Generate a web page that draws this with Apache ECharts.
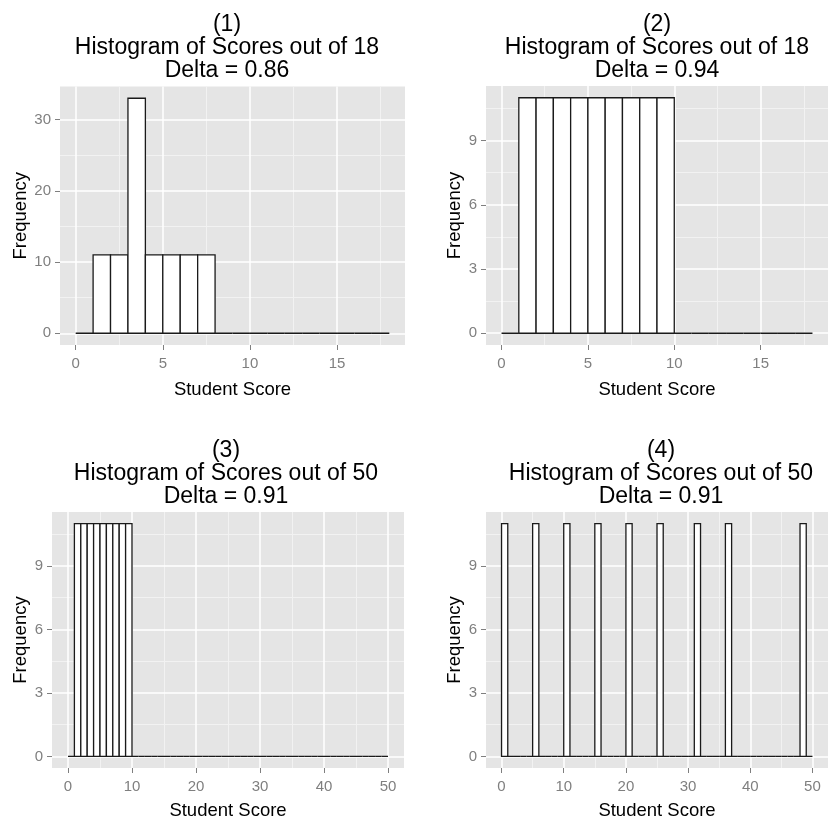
<!DOCTYPE html>
<html>
<head>
<meta charset="utf-8">
<script src="https://cdn.jsdelivr.net/npm/echarts@6/dist/echarts.min.js"></script>
<style>html,body{margin:0;padding:0;background:#fff}#c{width:828px;height:821px}</style>
</head>
<body>
<div id="c"></div>
<script>
// ---- Data (bins of width 1, starting at 0) ----
const binWidth = 1;
const counts1 = [0, 11, 11, 33, 11, 11, 11, 11, 0, 0, 0, 0, 0, 0, 0, 0, 0, 0];
const counts2 = [0, 11, 11, 11, 11, 11, 11, 11, 11, 11, 0, 0, 0, 0, 0, 0, 0, 0];
const counts3 = [0, 11, 11, 11, 11, 11, 11, 11, 11, 11, 0, 0, 0, 0, 0, 0, 0, 0, 0, 0,
                 0, 0, 0, 0, 0, 0, 0, 0, 0, 0, 0, 0, 0, 0, 0, 0, 0, 0, 0, 0,
                 0, 0, 0, 0, 0, 0, 0, 0, 0, 0];
const counts4 = [11, 0, 0, 0, 0, 11, 0, 0, 0, 0, 11, 0, 0, 0, 0, 11, 0, 0, 0, 0,
                 11, 0, 0, 0, 0, 11, 0, 0, 0, 0, 0, 11, 0, 0, 0, 0, 11, 0, 0, 0,
                 0, 0, 0, 0, 0, 0, 0, 0, 11, 0];
const titles = [
  "(1)\nHistogram of Scores out of 18\nDelta = 0.86",
  "(2)\nHistogram of Scores out of 18\nDelta = 0.94",
  "(3)\nHistogram of Scores out of 50\nDelta = 0.91",
  "(4)\nHistogram of Scores out of 50\nDelta = 0.91"
];
const xTicks18 = [0, 5, 10, 15];
const xMinor18 = [2.5, 7.5, 12.5, 17.5];
const xTicks50 = [0, 10, 20, 30, 40, 50];
const xMinor50 = [5, 15, 25, 35, 45];
const yTicks33 = [0, 10, 20, 30];
const yMinor33 = [5, 15, 25];
const yTicks11 = [0, 3, 6, 9];
const yMinor11 = [1.5, 4.5, 7.5, 10.5];
const xLabel = "Student Score";
const yLabel = "Frequency";

// ---- Layout ----
const FONT = "Liberation Sans, Arial, sans-serif";
const panels = [
  {counts: counts1, grid: {left: 60, top: 86.5, width: 345, height: 258.5}, xr: [-0.9, 18.9], yr: [-1.65, 34.65], xt: xTicks18, xm: xMinor18, yt: yTicks33, ym: yMinor33, tx: 222, ty: 8.5, xg: 35, yg: 29},
  {counts: counts2, grid: {left: 486, top: 86, width: 353, height: 259}, xr: [-0.9, 18.9], yr: [-0.55, 11.55], xt: xTicks18, xm: xMinor18, yt: yTicks11, ym: yMinor11, tx: 652, ty: 8.5, xg: 35, yg: 21},
  {counts: counts3, grid: {left: 52, top: 512, width: 352, height: 260}, xr: [-2.5, 52.5], yr: [-0.55, 11.55], xt: xTicks50, xm: xMinor50, yt: yTicks11, ym: yMinor11, tx: 221, ty: 434.5, xg: 33, yg: 21},
  {counts: counts4, grid: {left: 486, top: 512, width: 353, height: 260}, xr: [-2.5, 52.5], yr: [-0.55, 11.55], xt: xTicks50, xm: xMinor50, yt: yTicks11, ym: yMinor11, tx: 656, ty: 434.5, xg: 33, yg: 21}
];

const grid = [], xAxis = [], yAxis = [], series = [], title = [];
const tickColor = '#7F7F7F';
panels.forEach((p, i) => {
  grid.push(Object.assign({show: true, backgroundColor: '#E5E5E5', borderWidth: 0, containLabel: false}, p.grid));
  title.push({text: titles[i], left: p.tx, top: p.ty, textAlign: 'center',
    textStyle: {fontFamily: FONT, fontSize: 23, fontWeight: 'normal', color: '#000', lineHeight: 22.8}});
  // major x axis
  xAxis.push({type: 'value', gridIndex: i, min: p.xr[0], max: p.xr[1], position: 'bottom',
    axisLine: {show: false, onZero: false},
    axisTick: {show: true, length: 5, customValues: p.xt, lineStyle: {color: tickColor, width: 1}},
    axisLabel: {customValues: p.xt, color: tickColor, fontFamily: FONT, fontSize: 15, margin: 11},
    splitLine: {show: true, lineStyle: {color: '#FFFFFF', width: 1.5}},
    name: xLabel, nameLocation: 'middle', nameGap: p.xg,
    nameTextStyle: {fontFamily: FONT, fontSize: 18.5, color: '#000'}, z: 1});
  // minor x grid
  xAxis.push({type: 'value', gridIndex: i, min: p.xr[0], max: p.xr[1], position: 'bottom',
    axisLine: {show: false, onZero: false}, axisTick: {show: false, customValues: p.xm}, axisLabel: {show: false, customValues: p.xm},
    splitLine: {show: true, lineStyle: {color: '#F2F2F2', width: 1}}, z: 0});
  yAxis.push({type: 'value', gridIndex: i, min: p.yr[0], max: p.yr[1], position: 'left',
    axisLine: {show: false, onZero: false},
    axisTick: {show: true, length: 5, customValues: p.yt, lineStyle: {color: tickColor, width: 1}},
    axisLabel: {customValues: p.yt, color: tickColor, fontFamily: FONT, fontSize: 15, margin: 9},
    splitLine: {show: true, lineStyle: {color: '#FFFFFF', width: 1.5}},
    name: yLabel, nameLocation: 'middle', nameGap: p.yg,
    nameTextStyle: {fontFamily: FONT, fontSize: 18.5, color: '#000'}, z: 1});
  yAxis.push({type: 'value', gridIndex: i, min: p.yr[0], max: p.yr[1], position: 'left',
    axisLine: {show: false, onZero: false}, axisTick: {show: false, customValues: p.ym}, axisLabel: {show: false, customValues: p.ym},
    splitLine: {show: true, lineStyle: {color: '#F2F2F2', width: 1}}, z: 0});
  const data = p.counts.map((c, k) => [k * binWidth, (k + 1) * binWidth, c]);
  series.push({type: 'custom', xAxisIndex: 2 * i, yAxisIndex: 2 * i, data: data, z: 5, clip: false,
    encode: {x: [0, 1], y: 2},
    renderItem: function (params, api) {
      const a = api.coord([api.value(0), 0]);
      const b = api.coord([api.value(1), api.value(2)]);
      return {type: 'rect',
        shape: {x: a[0], y: b[1], width: b[0] - a[0], height: a[1] - b[1]},
        style: {fill: '#FFFFFF', stroke: '#1A1A1A', lineWidth: 1.3}};
    }});
});

const chart = echarts.init(document.getElementById('c'), null, {renderer: 'canvas'});
chart.setOption({animation: false, backgroundColor: '#FFFFFF', title, grid, xAxis, yAxis, series});
</script>
</body>
</html>
